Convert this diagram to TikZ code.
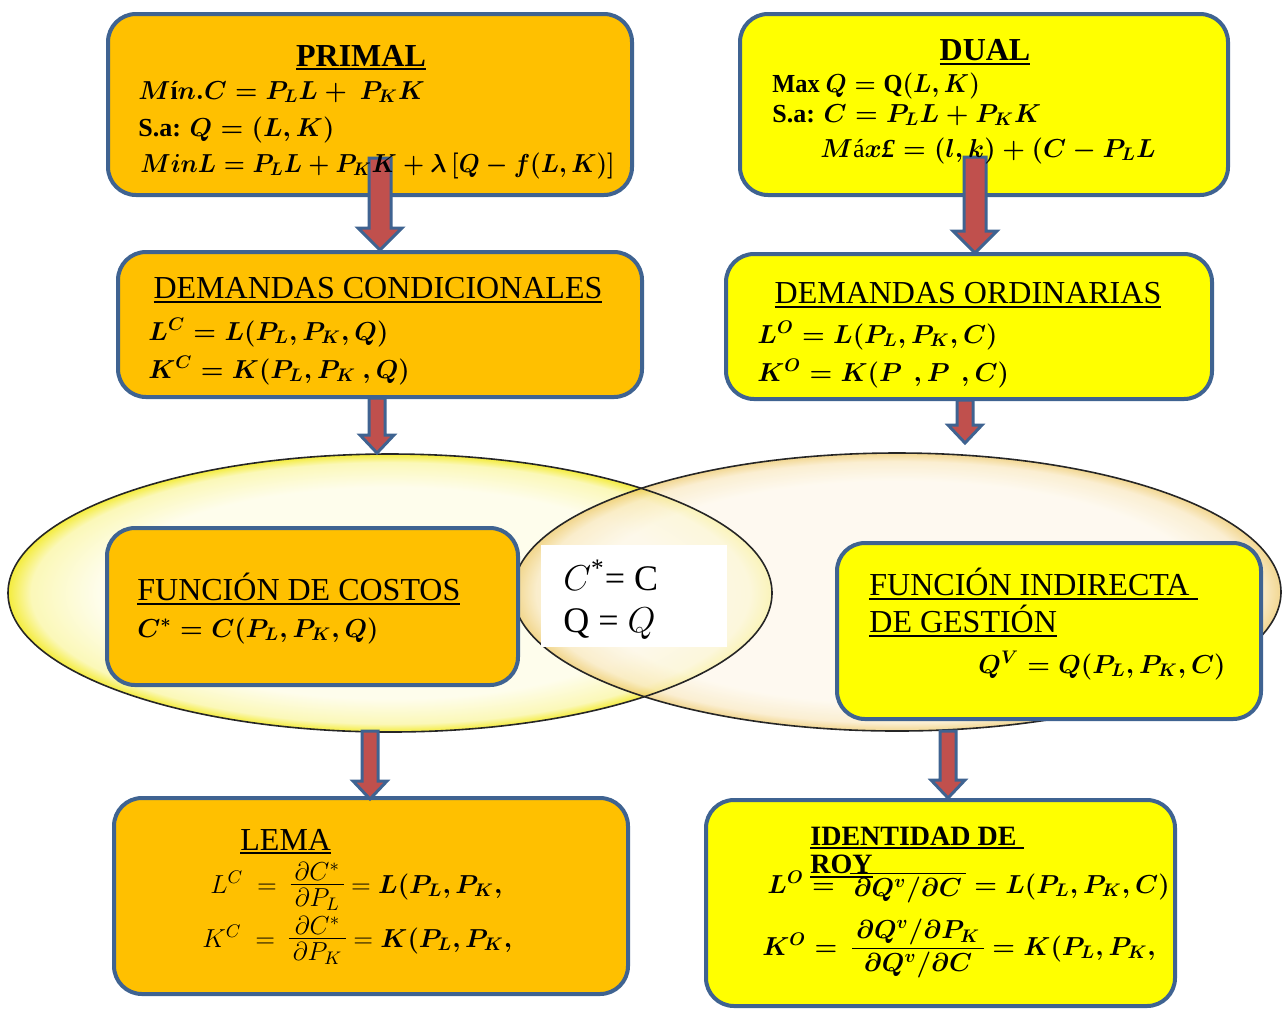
\RequirePackage{fix-cm}
\documentclass[tikz,border=0pt]{standalone}
\usepackage{amsmath,bm,graphicx}
\usepackage{fontspec}
\setmainfont{Liberation Serif}
\usetikzlibrary{calc}
\definecolor{boxblue}{HTML}{3F6391}
\definecolor{orfill}{HTML}{FFC000}
\definecolor{yefill}{HTML}{FFFF00}
\definecolor{arred}{HTML}{C0504D}
\definecolor{ellinL}{HTML}{FEFDEC}
\definecolor{ellmidL}{HTML}{FBF8B8}
\definecolor{elledgeL}{HTML}{F4EC3C}
\definecolor{ellinR}{HTML}{FDF7EA}
\definecolor{ellmidR}{HTML}{F9E8C0}
\definecolor{elledgeR}{HTML}{EDC766}
\pgfdeclareradialshading{glowL}{\pgfpoint{0bp}{0bp}}{color(0bp)=(ellinL); color(19bp)=(ellinL); color(23.5bp)=(ellmidL); color(25bp)=(elledgeL); color(50bp)=(elledgeL)}
\pgfdeclareradialshading{glowR}{\pgfpoint{0bp}{0bp}}{color(0bp)=(ellinR); color(20bp)=(ellinR); color(23.5bp)=(ellmidR); color(25bp)=(elledgeR); color(50bp)=(elledgeR)}
\newcommand\myul[1]{\leavevmode\vtop{\hbox{#1}\kern1.2pt\hrule height 1pt}}
\newcommand\tfont{\fontsize{16}{19}\selectfont}
\newcommand\mfont{\fontsize{13}{16}\selectfont}
\newcommand\sx[2]{\scalebox{#1}[1]{#2}}
\newcommand\myfrac[2]{\mathord{\vcenter{\offinterlineskip\halign{\hfil\kern2pt##\kern2pt\hfil\cr
  $#1$\cr\noalign{\kern1.5pt\hrule height 0.6pt\kern1.5pt}$#2$\cr}}}}
\newcommand\blockarr[5]{\path[barrow] let \p1=(#1), \p2=(#2) in
  (\x2-#3,\y1) -- (\x2-#3,\y2+#5) -- (\x2-#4,\y2+#5) -- (\x2,\y2) --
  (\x2+#4,\y2+#5) -- (\x2+#3,\y2+#5) -- (\x2+#3,\y1) -- cycle;}
\begin{document}
\begin{tikzpicture}[x=0.5pt,y=-0.5pt,
  rbox/.style={draw=boxblue, line width=2pt, rounded corners=14pt, inner sep=0pt},
  obox/.style={rbox, fill=orfill},
  ybox/.style={rbox, fill=yefill},
  barrow/.style={draw=boxblue, fill=arred, line width=1.5pt, line join=miter},
  ttl/.style={inner sep=0pt, font=\tfont},
  mth/.style={inner sep=0pt, anchor=base west, font=\mfont\boldmath},
  ell/.style={draw=black!85, line width=0.8pt}]
\useasboundingbox (0,0) rectangle (1284,1008);

% ellipses
\shade[shading=glowL] (390,593) ellipse [x radius=191pt, y radius=69.5pt];
\shade[shading=glowR, fill opacity=0.72] (897,592) ellipse [x radius=192pt, y radius=69.5pt];
\draw[ell] (390,593) ellipse [x radius=191pt, y radius=69.5pt];
\draw[ell] (897,592) ellipse [x radius=192pt, y radius=69.5pt];

% boxes
\node[obox, minimum width=262pt, minimum height=90.5pt] (primal) at (370,104.5) {};
\node[ybox, minimum width=244pt, minimum height=90.5pt] (dual) at (984,104.5) {};
\node[obox, minimum width=262pt, minimum height=72.5pt] (dcond) at (380,324.5) {};
\node[ybox, minimum width=243pt, minimum height=72.5pt] (dord) at (969,326.5) {};
\node[obox, minimum width=205.5pt, minimum height=78.5pt] (fcost) at (312.5,606.5) {};
\node[ybox, minimum width=212pt, minimum height=88pt] (findir) at (1049,631) {};
\node[obox, minimum width=257pt, minimum height=98pt] (lema) at (371,896) {};
\node[ybox, minimum width=234.5pt, minimum height=103pt] (roy) at (940.5,903) {};
\node[fill=white, inner sep=0pt, minimum width=93pt, minimum height=51pt] (wbox) at (634,596) {};

% arrow end points
\coordinate (a1s) at (380,158);
\coordinate (a2s) at (975,157);
\coordinate (a2e) at (975,253);
\coordinate (a3s) at (377,398);
\coordinate (a3e) at (377,453);
\coordinate (a4s) at (965,400);
\coordinate (a4e) at (965,443);
\coordinate (a5s) at (370,731);
\coordinate (a5e) at (370,799);
\coordinate (a6s) at (948,731);
\coordinate (a6e) at (948,798);

\blockarr{a1s}{dcond.north}{5.5pt}{11pt}{11pt}
\blockarr{a2s}{a2e}{5.5pt}{11pt}{11pt}
\blockarr{a3s}{a3e}{4pt}{8.5pt}{9pt}
\blockarr{a4s}{a4e}{4pt}{8.5pt}{9pt}
\blockarr{a5s}{a5e}{4pt}{8.5pt}{9pt}
\blockarr{a6s}{a6e}{4pt}{8.5pt}{9pt}

% PRIMAL texts
\node[ttl, anchor=base] (tprimal) at (361,66) {\myul{\textbf{PRIMAL}}};
\node[mth] (p1) at (138,99) {\sx{0.985}{$\bm{M}\textbf{í}\bm{n.C = P_LL +\ P_KK}$}};
\node[mth] (p2) at (138,136) {$\textbf{S.a: }\bm{Q = (L,K)}$};
\node[mth] (p3) at (140,172) {\sx{0.93}{$\bm{MinL = P_LL + P_KK + \lambda\,}[\bm{Q - f(L,K)}]$}};

% DUAL texts
\node[ttl, anchor=base] (tdual) at (985,60) {\myul{\textbf{DUAL}}};
\node[mth] (d1) at (772,92) {\sx{0.935}{$\textbf{Max }\bm{Q} = \mathrm{Q}(\bm{L},\bm{K})$}};
\node[mth] (d2) at (772,122) {$\textbf{S.a: }\bm{C = P_LL + P_KK}$};
\node[mth] (d3) at (820,157) {$\bm{M}\textrm{á}\bm{x}\textbf{\textit{£}}\bm{= (l,k) + (C - P_L L}$};

% DEMANDAS CONDICIONALES
\node[ttl, anchor=base] (tdc) at (378,298) {\myul{DEMANDAS CONDICIONALES}};
\node[mth] (c1) at (148,340) {$\bm{L^C = L(P_L, P_K, Q)}$};
\node[mth] (c2) at (148,378) {$\bm{K^C = K(P_L, P_K\ , Q)}$};

% DEMANDAS ORDINARIAS
\node[ttl, anchor=base] (tdo) at (968,303) {\myul{DEMANDAS ORDINARIAS}};
\node[mth] (o1) at (757,343) {$\bm{L^O = L(P_L, P_K, C)}$};
\node[mth] (o2) at (757,381) {$\bm{K^O = K(P\ \,, P\ \,, C)}$};

% FUNCION DE COSTOS
\node[ttl, anchor=base west] (tfc) at (137,600) {\myul{FUNCIÓN DE COSTOS}};
\node[mth] (f1) at (137,637) {$\bm{C^* = C(P_L, P_K, Q)}$};

% white box
\node[inner sep=0pt, anchor=base west, font=\fontsize{18}{21}\selectfont] (w1) at (563,590) {$C$\textsuperscript{*}= C};
\node[inner sep=0pt, anchor=base west, font=\fontsize{18}{21}\selectfont] (w2) at (563,632) {Q = $Q$};

% FUNCION INDIRECTA
\node[ttl, anchor=base west] (tfi1) at (869,595) {\myul{FUNCIÓN INDIRECTA\ }};
\node[ttl, anchor=base west] (tfi2) at (869,632) {\myul{DE GESTIÓN}};
\node[mth] (g1) at (978,673) {$\bm{Q^V = Q(P_L, P_K, C)}$};

% LEMA
\node[ttl, anchor=base west] (tlema) at (240,850) {\myul{LEMA}};
\node[mth, font=\mfont] (l1) at (210,893) {$L^C\ =\ \myfrac{\partial C^*}{\partial P_L} = \bm{L(P_L, P_K,}$};
\node[mth, font=\mfont] (l2) at (202,947) {$K^C\ =\ \myfrac{\partial C^*}{\partial P_K} = \bm{K(P_L, P_K,}$};

% ROY
\node[ttl, anchor=base west, font=\fontsize{14}{17}\selectfont] (troy1) at (810,845) {\myul{\textbf{IDENTIDAD DE\ }}};
\node[ttl, anchor=base west, font=\fontsize{14}{17}\selectfont] (troy2) at (810,873) {\myul{\textbf{ROY}}};
\node[mth] (r1) at (767,893) {$\bm{L^O =}\ \myfrac{\kern48pt}{\bm{\partial Q^v/\partial C}} \bm{= L(P_L, P_K, C)}$};
\node[mth] (r2) at (762,955) {$\bm{K^O =}\ \myfrac{\bm{\partial Q^v/\partial P_K}}{\bm{\partial Q^v/\partial C}} \bm{= K(P_L, P_K,}$};
\end{tikzpicture}
\end{document}
